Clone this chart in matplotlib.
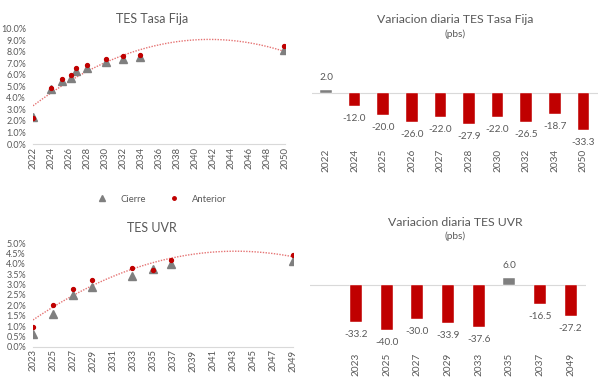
import numpy as np
import matplotlib
matplotlib.use('Agg')
import matplotlib.pyplot as plt
from matplotlib.lines import Line2D

plt.rcParams['font.family'] = ['Lato', 'DejaVu Sans']

# TES Tasa Fija curve (%)
tf_x = [2022.0, 2024.0, 2025.2, 2026.2, 2026.8, 2028.0, 2030.1, 2032.0, 2033.9, 2049.9]
tf_cierre = [2.31, 4.74, 5.46, 5.75, 6.36, 6.56, 7.14, 7.34, 7.57, 8.15]
tf_anterior = [2.29, 4.86, 5.66, 6.01, 6.58, 6.84, 7.36, 7.61, 7.76, 8.48]

# TES UVR curve (%)
uvr_x = [2023.0, 2025.0, 2027.0, 2028.9, 2032.9, 2035.0, 2036.8, 2049.0]
uvr_cierre = [0.60, 1.60, 2.50, 2.87, 3.44, 3.77, 4.02, 4.15]
uvr_anterior = [0.93, 2.00, 2.80, 3.21, 3.82, 3.71, 4.19, 4.42]

# daily change (pbs)
tf_cats = ['2022', '2024', '2025', '2026', '2027', '2028', '2030', '2032', '2034', '2050']
tf_var = [2.0, -12.0, -20.0, -26.0, -22.0, -27.9, -22.0, -26.5, -18.7, -33.3]
uvr_cats = ['', '2023', '2025', '2027', '2029', '2033', '2035', '2037', '2049']
uvr_var = [np.nan, -33.2, -40.0, -30.0, -33.9, -37.6, 6.0, -16.5, -27.2]

RED = '#C00000'
GREY = '#7F7F7F'
TXT = '#595959'
AXL = '#D9D9D9'

W, H = 603, 386
fig = plt.figure(figsize=(W / 100, H / 100), dpi=100)


def rect(l, t, r, b):
    return [l / W, 1 - b / H, (r - l) / W, (b - t) / H]


def curve(ax, x, cierre, anterior, trend_on, xt, yt):
    ax.plot(x, cierre, linestyle='none', marker='^', ms=6, color=GREY, zorder=3)
    ax.plot(x, anterior, linestyle='none', marker='o', ms=2.8, color=RED, zorder=4)
    # quadratic trendline, as in the source workbook
    coef = np.polyfit(x, trend_on, 2)
    xs = np.linspace(min(x), max(x), 200)
    ax.plot(xs, np.polyval(coef, xs), color='#E57373', lw=1, linestyle=(0, (1, 1)), zorder=2)
    ax.set_xticks(xt)
    ax.set_yticks(yt)
    ax.set_xlim(xt[0], xt[-1])
    ax.set_ylim(yt[0], yt[-1])
    ax.yaxis.set_major_formatter(lambda v, p: f'{v:.1f}%')
    for s in ['top', 'right', 'left']:
        ax.spines[s].set_visible(False)
    ax.spines['bottom'].set_color(AXL)
    ax.tick_params(axis='x', length=0, pad=2, labelsize=6.8, labelcolor=TXT, rotation=90)
    ax.tick_params(axis='y', length=0, pad=5, labelsize=6.5, labelcolor=TXT)
    ax.patch.set_alpha(0)


def bars(ax, cats, vals, ylim):
    pos = np.arange(len(cats))
    cols = [GREY if v > 0 else RED for v in vals]
    ax.bar(pos, vals, width=0.4, color=cols, edgecolor='white', linewidth=0.3)
    ax.axhline(0, color=AXL, lw=0.8, zorder=0)
    for p, v in zip(pos, vals):
        if np.isnan(v):
            continue
        off = 9 if v > 0 else -9
        ax.annotate(f'{v:.1f}', (p, v), xytext=(0, off), textcoords='offset points',
                    ha='center', va='center', fontsize=7.2, color=TXT)
    ax.set_xticks(pos)
    ax.set_xticklabels(cats, rotation=90, fontsize=7.2, color=TXT)
    ax.set_xlim(-0.5, len(cats) - 0.5)
    ax.set_ylim(*ylim)
    ax.set_yticks([])
    ax.tick_params(axis='x', length=0, pad=2)
    for s in ax.spines.values():
        s.set_visible(False)
    ax.patch.set_alpha(0)


ax1 = fig.add_axes(rect(33, 28.7, 285, 144))
curve(ax1, tf_x, tf_cierre, tf_anterior, tf_cierre,
      list(range(2022, 2051, 2)), np.arange(0, 10.01, 1.0))
ax2 = fig.add_axes(rect(33, 243.3, 293, 346.7))
curve(ax2, uvr_x, uvr_cierre, uvr_anterior, uvr_anterior,
      list(range(2023, 2050, 2)), np.arange(0, 5.01, 0.5))

ax3 = fig.add_axes(rect(311.7, 55, 597.7, 146))
bars(ax3, tf_cats, tf_var, (-47.6, 33.6))
ax4 = fig.add_axes(rect(310, 255, 586, 350))
bars(ax4, uvr_cats, uvr_var, (-57.8, 26.7))

fig.text(152 / W, 1 - 19 / H, 'TES Tasa Fija', ha='center', va='center', fontsize=9, color=TXT)
fig.text(152 / W, 1 - 228 / H, 'TES UVR', ha='center', va='center', fontsize=9, color=TXT)
fig.text(455 / W, 1 - 19.3 / H, 'Variacion diaria TES Tasa Fija', ha='center', va='center', fontsize=8.8, color=TXT)
fig.text(455 / W, 1 - 34.3 / H, '(pbs)', ha='center', va='center', fontsize=7.2, color=TXT)
fig.text(455 / W, 1 - 222.7 / H, 'Variacion diaria TES UVR', ha='center', va='center', fontsize=8.8, color=TXT)
fig.text(455 / W, 1 - 236.7 / H, '(pbs)', ha='center', va='center', fontsize=7.2, color=TXT)

handles = [Line2D([], [], linestyle='none', marker='^', ms=5, color=GREY),
           Line2D([], [], linestyle='none', marker='o', ms=2.5, color=RED)]
fig.legend(handles, ['Cierre', 'Anterior'], loc='center', bbox_to_anchor=(161 / W, 1 - 199 / H),
           ncol=2, frameon=False, fontsize=6.8, labelcolor=TXT, handlelength=1.5,
           columnspacing=2.2, handletextpad=1.2)

fig.savefig('out.png', dpi=100)
